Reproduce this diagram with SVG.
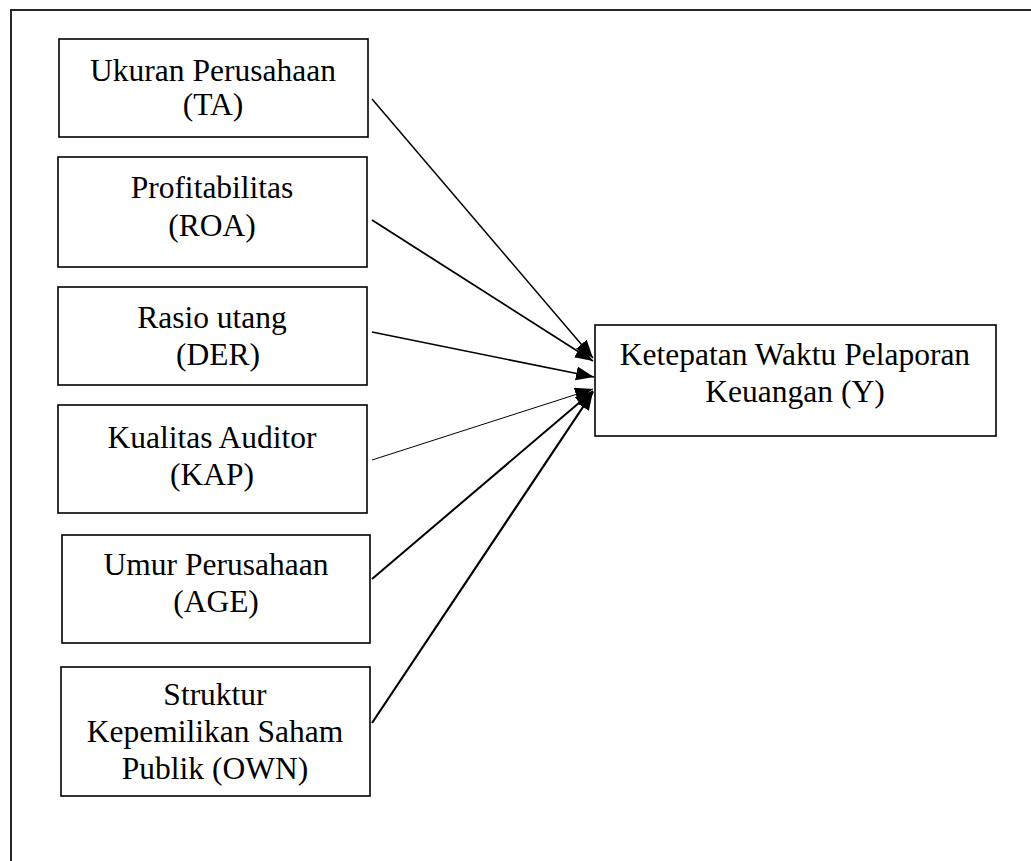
<svg xmlns="http://www.w3.org/2000/svg" width="1031" height="861" viewBox="0 0 1031 861">
<style>
.box{fill:#fff;stroke:#000;stroke-width:1.6}
.t{font-family:"Liberation Serif","Times New Roman",serif;font-size:31.5px;fill:#000;text-anchor:middle}
.c{fill:none;stroke:#000}
</style>
<defs>
<marker id="ah" markerUnits="userSpaceOnUse" markerWidth="20" markerHeight="16" refX="18" refY="7" orient="auto">
<path d="M0,0 L18,7 L0,14 z" fill="#000"/>
</marker>
<linearGradient id="g2" gradientUnits="userSpaceOnUse" x1="372" y1="220" x2="593" y2="360">
<stop offset="0" stop-color="#ccc"/><stop offset="0.5" stop-color="#444"/><stop offset="1" stop-color="#000"/>
</linearGradient>
<linearGradient id="g3" gradientUnits="userSpaceOnUse" x1="372" y1="332" x2="593" y2="377">
<stop offset="0" stop-color="#ddd"/><stop offset="0.5" stop-color="#444"/><stop offset="1" stop-color="#000"/>
</linearGradient>
</defs>
<rect x="11" y="10" width="1040" height="870" fill="#fff" stroke="#111" stroke-width="1.8"/>
<g id="connectors">
<line class="c" x1="372" y1="99" x2="593" y2="358" stroke-width="1.5" marker-end="url(#ah)"/>
<line class="c" x1="372" y1="220" x2="593" y2="361" stroke="url(#g2)" stroke-width="1.8" marker-end="url(#ah)"/>
<line class="c" x1="372" y1="332" x2="594" y2="377" stroke="url(#g3)" stroke-width="1.6" marker-end="url(#ah)"/>
<line class="c" x1="372" y1="460" x2="593" y2="389" stroke="#bbb" stroke-width="1" marker-end="url(#ah)"/>
<line class="c" x1="372" y1="579" x2="593" y2="391" stroke-width="2" marker-end="url(#ah)"/>
<line class="c" x1="372" y1="723" x2="593" y2="392" stroke-width="2.2" marker-end="url(#ah)"/>
</g>
<g id="node-ta">
<rect class="box" x="59" y="39" width="309" height="98"/>
<text class="t" x="213" y="81">Ukuran Perusahaan</text>
<text class="t" x="213" y="115">(TA)</text>
</g>
<g id="node-roa">
<rect class="box" x="58" y="157" width="309" height="110"/>
<text class="t" x="212" y="198">Profitabilitas</text>
<text class="t" x="212" y="236">(ROA)</text>
</g>
<g id="node-der">
<rect class="box" x="58" y="287" width="309" height="98"/>
<text class="t" x="212" y="328">Rasio utang</text>
<text class="t" x="218" y="365">(DER)</text>
</g>
<g id="node-kap">
<rect class="box" x="58" y="405" width="309" height="108"/>
<text class="t" x="212" y="448">Kualitas Auditor</text>
<text class="t" x="212" y="485">(KAP)</text>
</g>
<g id="node-age">
<rect class="box" x="62" y="535" width="308" height="108"/>
<text class="t" x="216" y="575">Umur Perusahaan</text>
<text class="t" x="216" y="612">(AGE)</text>
</g>
<g id="node-own">
<rect class="box" x="61" y="667" width="309" height="129"/>
<text class="t" x="215" y="705">Struktur</text>
<text class="t" x="215" y="742">Kepemilikan Saham</text>
<text class="t" x="215" y="779">Publik (OWN)</text>
</g>
<g id="node-y">
<rect class="box" x="595" y="325" width="401" height="111"/>
<text class="t" x="795" y="365">Ketepatan Waktu Pelaporan</text>
<text class="t" x="795" y="402">Keuangan (Y)</text>
</g>
</svg>
